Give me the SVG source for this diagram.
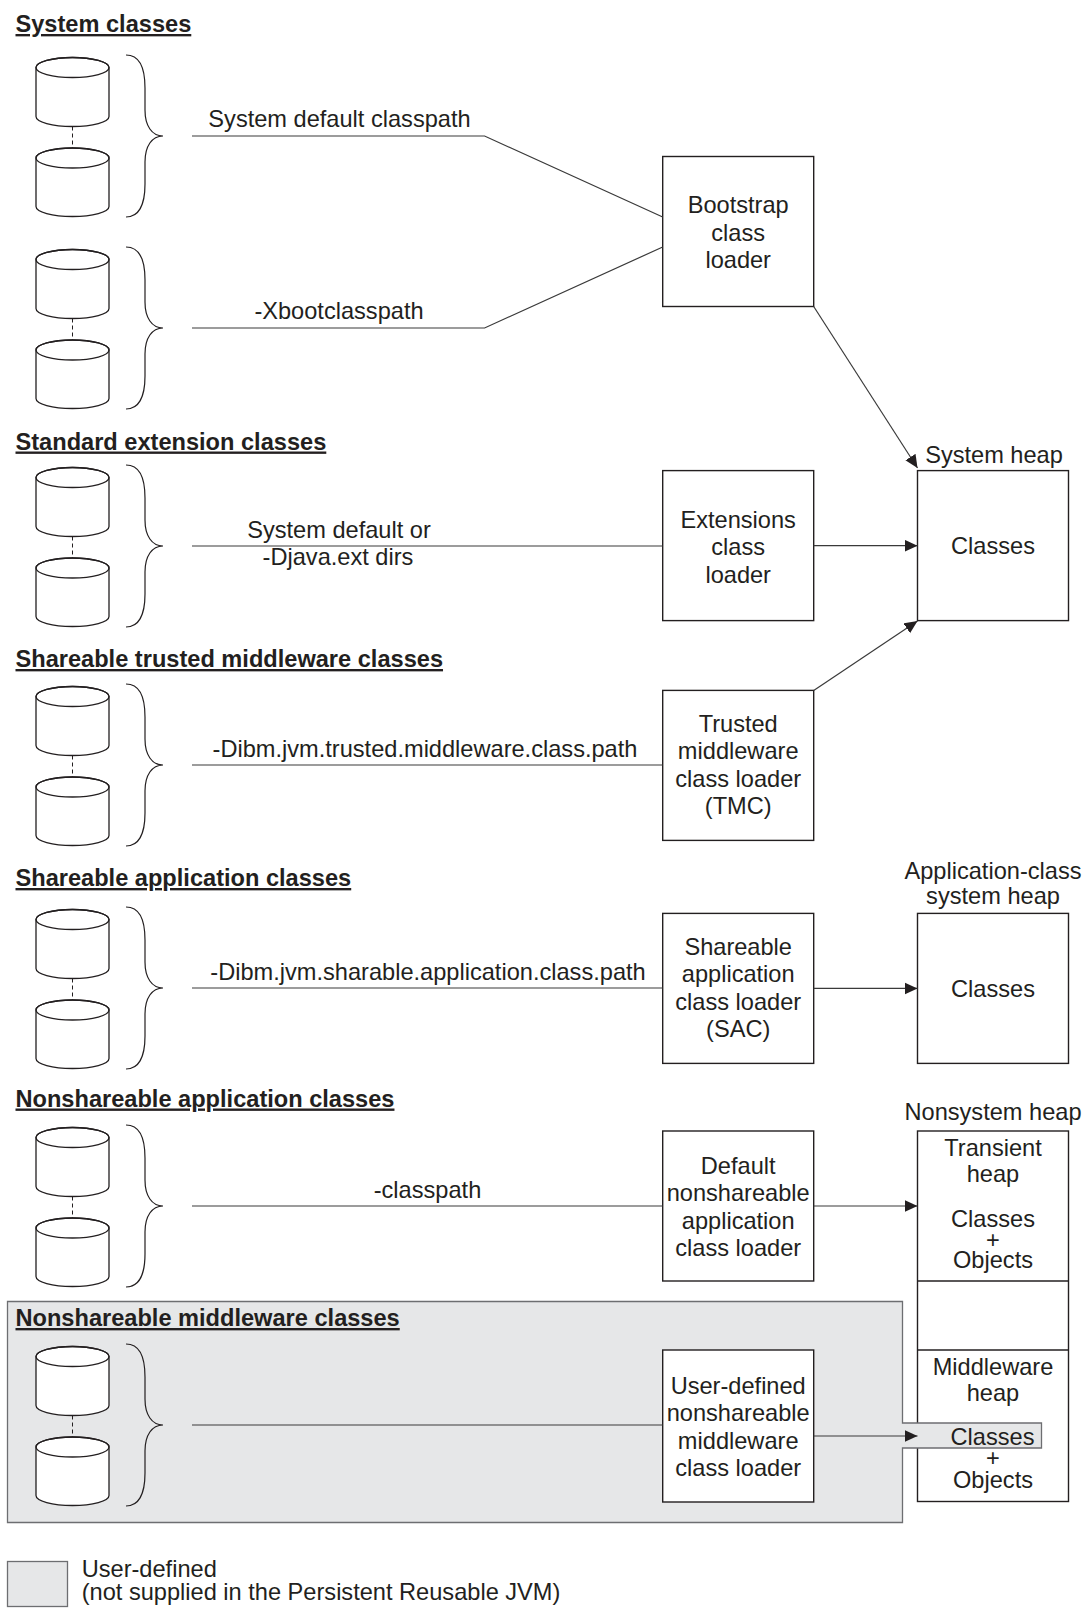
<svg xmlns="http://www.w3.org/2000/svg" width="1087" height="1611" viewBox="0 0 1087 1611">
<style>
.t{font-family:"Liberation Sans",Arial,Helvetica,sans-serif;font-size:23.6px;fill:#231f20}
.c{text-anchor:middle}
.h{font-weight:bold;text-decoration:underline}
.box{fill:#fff;stroke:#231f20;stroke-width:1.4}
.ln{fill:none;stroke:#3a3a3a;stroke-width:1.2}
.cyl{fill:#fff;stroke:#231f20;stroke-width:1.3}
.cyt{fill:none;stroke:#231f20;stroke-width:1.3}
.dash{stroke:#231f20;stroke-width:1;stroke-dasharray:4 3}
.br{fill:none;stroke:#231f20;stroke-width:1.2}
.gray{fill:#e6e7e8;stroke:#6d6e71;stroke-width:1.3}
</style>
<defs>
<marker id="arr" markerUnits="userSpaceOnUse" markerWidth="14" markerHeight="13" refX="13" refY="6" orient="auto">
<path d="M0,0 L13,6 L0,12 Z" fill="#231f20"/>
</marker>
<g id="pair">
<path class="cyl" d="M36,-68.5 V-19.5 A36.5,10 0 0 0 109,-19.5 V-68.5 A36.5,10 0 0 0 36,-68.5 Z"/>
<ellipse class="cyt" cx="72.5" cy="-68.5" rx="36.5" ry="10"/>
<line class="dash" x1="72.5" y1="-9.5" x2="72.5" y2="12"/>
<path class="cyl" d="M36,22 V70.5 A36.5,10 0 0 0 109,70.5 V22 A36.5,10 0 0 0 36,22 Z"/>
<ellipse class="cyt" cx="72.5" cy="22" rx="36.5" ry="10"/>
<path class="br" d="M126,-81 C138,-81 145,-70 145,-48 L145,-26 C145,-10 152,0 163,0 C152,0 145,10 145,26 L145,48 C145,70 138,81 126,81"/>
</g>
</defs>

<!-- heap boxes drawn first (under gray region) -->
<g id="nonsystem-heap">
<rect class="box" x="917.5" y="1131" width="151" height="370.5"/>
<line class="box" x1="917.5" y1="1281" x2="1068.5" y2="1281"/>
<line class="box" x1="917.5" y1="1350" x2="1068.5" y2="1350"/>
<text class="t c" x="993" y="1120">Nonsystem heap</text>
<text class="t c" x="993" y="1155.5">Transient</text>
<text class="t c" x="993" y="1181.5">heap</text>
<text class="t c" x="993" y="1227">Classes</text>
<text class="t c" x="993" y="1248">+</text>
<text class="t c" x="993" y="1267.5">Objects</text>
<text class="t c" x="993" y="1375">Middleware</text>
<text class="t c" x="993" y="1401">heap</text>
<text class="t c" x="993" y="1466">+</text>
<text class="t c" x="993" y="1488">Objects</text>
</g>

<g id="user-defined-region">
<path class="gray" d="M7.5,1301.5 H902.5 V1423 H1041.5 V1448 H902.5 V1522.5 H7.5 Z"/>
<text class="t c" x="992.5" y="1445">Classes</text>
</g>

<g id="sec-system">
<text class="t h" x="15.5" y="32">System classes</text>
<use href="#pair" transform="translate(0,136)"/>
<use href="#pair" transform="translate(0,328)"/>
</g>
<g id="sec-ext">
<text class="t h" x="15.5" y="449.5">Standard extension classes</text>
<use href="#pair" transform="translate(0,546)"/>
</g>
<g id="sec-tmc">
<text class="t h" x="15.5" y="667">Shareable trusted middleware classes</text>
<use href="#pair" transform="translate(0,765)"/>
</g>
<g id="sec-sac">
<text class="t h" x="15.5" y="886">Shareable application classes</text>
<use href="#pair" transform="translate(0,988)"/>
</g>
<g id="sec-nonapp">
<text class="t h" x="15.5" y="1106.5">Nonshareable application classes</text>
<use href="#pair" transform="translate(0,1206)"/>
</g>
<g id="sec-nonmid">
<text class="t h" x="15.5" y="1326">Nonshareable middleware classes</text>
<use href="#pair" transform="translate(0,1425)"/>
</g>

<g id="bootstrap">
<rect class="box" x="662.7" y="156.5" width="151" height="150"/>
<text class="t c" x="738.2" y="213">Bootstrap</text>
<text class="t c" x="738.2" y="240.5">class</text>
<text class="t c" x="738.2" y="268">loader</text>
</g>
<g id="extensions">
<rect class="box" x="662.7" y="470.6" width="151" height="150"/>
<text class="t c" x="738.2" y="527.5">Extensions</text>
<text class="t c" x="738.2" y="555">class</text>
<text class="t c" x="738.2" y="582.5">loader</text>
</g>
<g id="tmc">
<rect class="box" x="662.7" y="690.4" width="151" height="150"/>
<text class="t c" x="738.2" y="731.5">Trusted</text>
<text class="t c" x="738.2" y="759">middleware</text>
<text class="t c" x="738.2" y="786.5">class loader</text>
<text class="t c" x="738.2" y="814">(TMC)</text>
</g>
<g id="sac">
<rect class="box" x="662.7" y="913.4" width="151" height="150"/>
<text class="t c" x="738.2" y="954.5">Shareable</text>
<text class="t c" x="738.2" y="982">application</text>
<text class="t c" x="738.2" y="1009.5">class loader</text>
<text class="t c" x="738.2" y="1037">(SAC)</text>
</g>
<g id="default-loader">
<rect class="box" x="662.7" y="1131" width="151" height="150"/>
<text class="t c" x="738.2" y="1173.5">Default</text>
<text class="t c" x="738.2" y="1201">nonshareable</text>
<text class="t c" x="738.2" y="1228.5">application</text>
<text class="t c" x="738.2" y="1256">class loader</text>
</g>
<g id="user-loader">
<rect class="box" x="662.7" y="1350" width="151" height="152"/>
<text class="t c" x="738.2" y="1393.5">User-defined</text>
<text class="t c" x="738.2" y="1421">nonshareable</text>
<text class="t c" x="738.2" y="1448.5">middleware</text>
<text class="t c" x="738.2" y="1476">class loader</text>
</g>

<g id="system-heap">
<text class="t c" x="994" y="462.5">System heap</text>
<rect class="box" x="917.5" y="470.6" width="151" height="150"/>
<text class="t c" x="993" y="554">Classes</text>
</g>
<g id="app-heap">
<text class="t c" x="993" y="878.5">Application-class</text>
<text class="t c" x="993" y="903.5">system heap</text>
<rect class="box" x="917.5" y="913.4" width="151" height="150"/>
<text class="t c" x="993" y="997">Classes</text>
</g>

<g id="connectors">
<path class="ln" d="M192,136 H484.6 L662.7,217"/>
<path class="ln" d="M192,328 H484.6 L662.7,247"/>
<path class="ln" d="M192,546 H662.7"/>
<path class="ln" d="M192,765 H662.7"/>
<path class="ln" d="M192,988 H662.7"/>
<path class="ln" d="M192,1206 H662.7"/>
<path class="ln" d="M192,1425 H662.7"/>
<path class="ln" d="M813.7,306.5 L917.5,468" marker-end="url(#arr)"/>
<path class="ln" d="M813.7,545.7 H917.5" marker-end="url(#arr)"/>
<path class="ln" d="M813.7,690.4 L917.5,621" marker-end="url(#arr)"/>
<path class="ln" d="M813.7,988.4 H917.5" marker-end="url(#arr)"/>
<path class="ln" d="M813.7,1206 H917.5" marker-end="url(#arr)"/>
<path class="ln" d="M813.7,1436 H917.5" marker-end="url(#arr)"/>
<text class="t c" x="339.5" y="127">System default classpath</text>
<text class="t c" x="339" y="318.5">-Xbootclasspath</text>
<text class="t c" x="339" y="538">System default or</text>
<text class="t c" x="338" y="565">-Djava.ext dirs</text>
<text class="t c" x="425" y="757">-Dibm.jvm.trusted.middleware.class.path</text>
<text class="t c" x="428" y="980">-Dibm.jvm.sharable.application.class.path</text>
<text class="t c" x="427.5" y="1198">-classpath</text>
</g>

<g id="legend">
<rect class="gray" x="7.5" y="1561.5" width="60" height="45"/>
<text class="t" x="81.7" y="1577">User-defined</text>
<text class="t" x="81.7" y="1599.5">(not supplied in the Persistent Reusable JVM)</text>
</g>
</svg>
